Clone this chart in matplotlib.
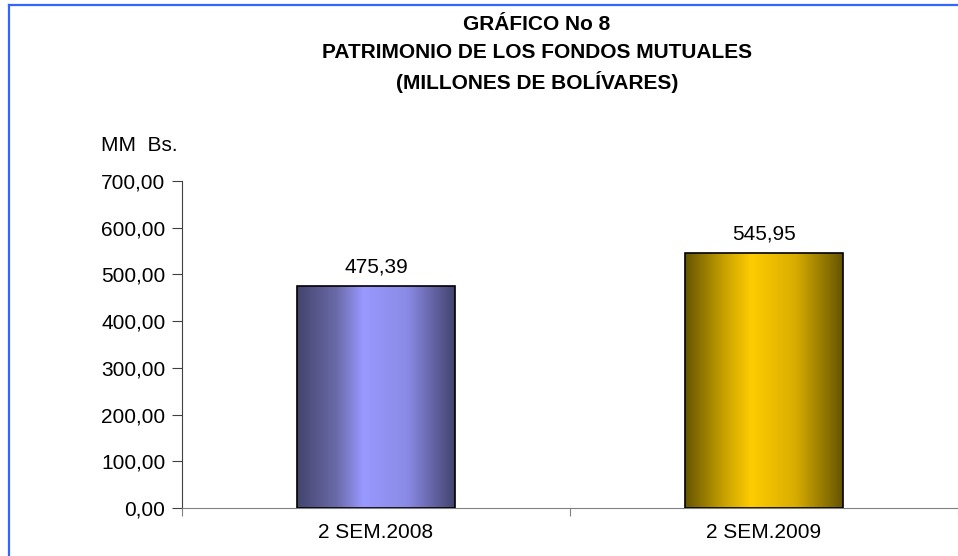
import matplotlib
matplotlib.use("Agg")
import matplotlib.pyplot as plt
import numpy as np
from matplotlib.colors import LinearSegmentedColormap
from matplotlib.lines import Line2D

categories = ["2 SEM.2008", "2 SEM.2009"]
values = [475.39, 545.95]
value_labels = ["475,39", "545,95"]
yticks = [0, 100, 200, 300, 400, 500, 600, 700]
ytick_labels = ["0,00", "100,00", "200,00", "300,00", "400,00", "500,00", "600,00", "700,00"]

plt.rcParams['font.family'] = ['Liberation Sans', 'DejaVu Sans']

fig = plt.figure(figsize=(9.58, 5.56), dpi=100)
ax = fig.add_axes([182/958, 1-508/556, 1-182/958, (508-181)/556])

x = np.arange(len(categories))
width = 0.405
bars = ax.bar(x, values, width=width, color='none', edgecolor='black', linewidth=1.2, zorder=3)

grads = [
    ["#44446e", "#6a6aa8", "#9999ff", "#8a8ae6", "#44446e"],
    ["#665500", "#c9a200", "#ffcc00", "#d9ad00", "#665500"],
]
positions = [0.0, 0.25, 0.42, 0.7, 1.0]
for b, g in zip(bars, grads):
    cmap = LinearSegmentedColormap.from_list("g", list(zip(positions, g)))
    grad = np.linspace(0, 1, 256).reshape(1, -1)
    x0, y0 = b.get_x(), b.get_y()
    im = ax.imshow(grad, cmap=cmap, aspect='auto',
                   extent=[x0, x0 + b.get_width(), y0, y0 + b.get_height()],
                   zorder=2, interpolation='bilinear')
    im.set_clip_path(b)

fs = 15
for xi, v, lab in zip(x, values, value_labels):
    ax.text(xi, v + 20, lab, ha='center', va='bottom', fontsize=fs)

ax.set_xlim(-0.5, 1.5)
ax.set_ylim(0, 700)
ax.set_yticks(yticks)
ax.set_yticklabels(ytick_labels, fontsize=fs)
ax.set_xticks([-0.5, 0.5, 1.5])
ax.set_xticklabels([])
ax.set_xticks(x, minor=True)
ax.set_xticklabels(categories, minor=True, fontsize=fs)
ax.tick_params(axis='x', which='minor', length=0, pad=11)
ax.tick_params(axis='x', which='major', length=6, color='#808080')
ax.tick_params(axis='y', length=7, color='#404040', pad=5)
for s in ['top', 'right']:
    ax.spines[s].set_visible(False)
ax.spines['bottom'].set_color('#808080')
ax.spines['left'].set_color('#404040')
ax.set_facecolor('none')

tfs = 15
tx = 537/958
fig.text(tx, 1-24/556, "GRÁFICO No 8", ha='center', va='center', fontsize=tfs, fontweight='bold')
fig.text(tx, 1-53/556, "PATRIMONIO DE LOS FONDOS MUTUALES", ha='center', va='center', fontsize=tfs, fontweight='bold')
fig.text(tx, 1-82/556, "(MILLONES DE BOLÍVARES)", ha='center', va='center', fontsize=tfs, fontweight='bold')
fig.text(101/958, 1-146/556, "MM  Bs.", ha='left', va='center', fontsize=fs)

fig.add_artist(Line2D([8.5/958, 8.5/958], [0, 1-4.5/556], color='#3366ff', linewidth=1.6, transform=fig.transFigure))
fig.add_artist(Line2D([8.5/958, 1], [1-4.5/556, 1-4.5/556], color='#3366ff', linewidth=1.6, transform=fig.transFigure))

fig.savefig("out.png", dpi=100)
